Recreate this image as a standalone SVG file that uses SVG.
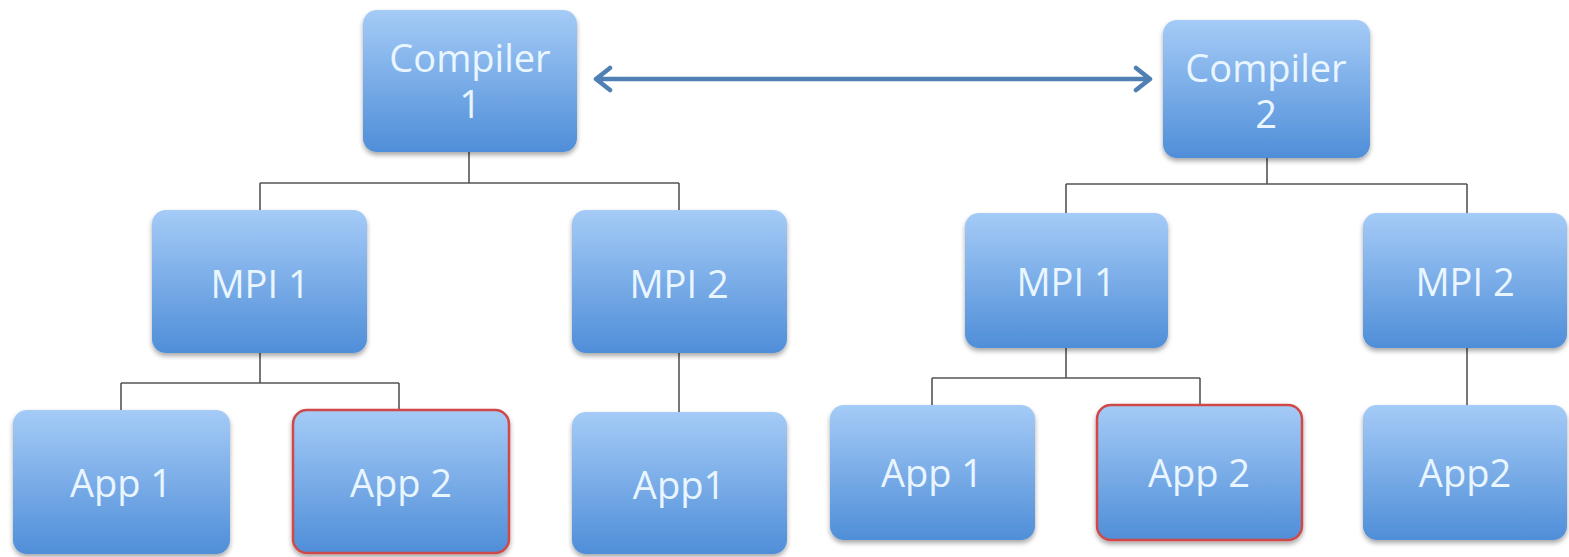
<svg xmlns="http://www.w3.org/2000/svg" width="1569" height="557" viewBox="0 0 1569 557">
<style>
.box{fill:url(#g);filter:url(#sh)}
.sel{stroke:#cf4a4a;stroke-width:2.5}
.t{font-family:"Open Sans","Noto Sans",sans-serif;font-size:38px;fill:#eaf6ff;text-anchor:middle}
.c{fill:none;stroke:#555;stroke-width:1.6}
.arr{fill:none;stroke:#4f7fb3;stroke-width:4.5;stroke-linecap:round;stroke-linejoin:round}
</style>
<defs>
<linearGradient id="g" x1="0" y1="0" x2="0" y2="1">
<stop offset="0" stop-color="#a5cbf7"/>
<stop offset="1" stop-color="#4f8ed8"/>
</linearGradient>
<filter id="sh" x="-10%" y="-10%" width="120%" height="125%">
<feGaussianBlur in="SourceAlpha" stdDeviation="2.5"/>
<feOffset dy="2.5"/>
<feComponentTransfer><feFuncA type="linear" slope="0.35"/></feComponentTransfer>
<feMerge><feMergeNode/><feMergeNode in="SourceGraphic"/></feMerge>
</filter>
</defs>
<rect width="1569" height="557" fill="#ffffff"/>
<g id="connectors">
<path class="c" d="M469 152V183M260 183H679M260 183V210M679 183V210"/>
<path class="c" d="M260 353V383M121 383H399M121 383V410M399 383V410"/>
<path class="c" d="M679 353V412"/>
<path class="c" d="M1267 158V184M1066 184H1467M1066 184V213M1467 184V213"/>
<path class="c" d="M1066 348V378M932 378H1200M932 378V405M1200 378V405"/>
<path class="c" d="M1467 348V405"/>
<path class="arr" d="M596 79H1150M610 68L596 79L610 90M1136 68L1150 79L1136 90"/>
</g>
<g id="compiler1"><rect class="box" x="363" y="10" width="214" height="142" rx="14"/><text class="t" x="470" y="72">Compiler</text><text class="t" x="470" y="118">1</text></g>
<g id="compiler2"><rect class="box" x="1163" y="20" width="207" height="138" rx="14"/><text class="t" x="1266" y="82">Compiler</text><text class="t" x="1266" y="128">2</text></g>
<g id="c1-mpi1"><rect class="box" x="152" y="210" width="215" height="143" rx="14"/><text class="t" x="260" y="298">MPI 1</text></g>
<g id="c1-mpi2"><rect class="box" x="572" y="210" width="215" height="143" rx="14"/><text class="t" x="679" y="298">MPI 2</text></g>
<g id="c1-app1"><rect class="box" x="13" y="410" width="217" height="144" rx="14"/><text class="t" x="121" y="497">App 1</text></g>
<g id="c1-app2"><rect class="box sel" x="293" y="410" width="216" height="143" rx="14"/><text class="t" x="401" y="497">App 2</text></g>
<g id="c1-app1b"><rect class="box" x="572" y="412" width="215" height="142" rx="14"/><text class="t" x="679" y="499">App1</text></g>
<g id="c2-mpi1"><rect class="box" x="965" y="213" width="203" height="135" rx="14"/><text class="t" x="1066" y="296">MPI 1</text></g>
<g id="c2-mpi2"><rect class="box" x="1363" y="213" width="204" height="135" rx="14"/><text class="t" x="1465" y="296">MPI 2</text></g>
<g id="c2-app1"><rect class="box" x="830" y="405" width="205" height="135" rx="14"/><text class="t" x="932" y="487">App 1</text></g>
<g id="c2-app2"><rect class="box sel" x="1097" y="405" width="205" height="135" rx="14"/><text class="t" x="1199" y="487">App 2</text></g>
<g id="c2-app2b"><rect class="box" x="1363" y="405" width="204" height="135" rx="14"/><text class="t" x="1465" y="487">App2</text></g>
</svg>
